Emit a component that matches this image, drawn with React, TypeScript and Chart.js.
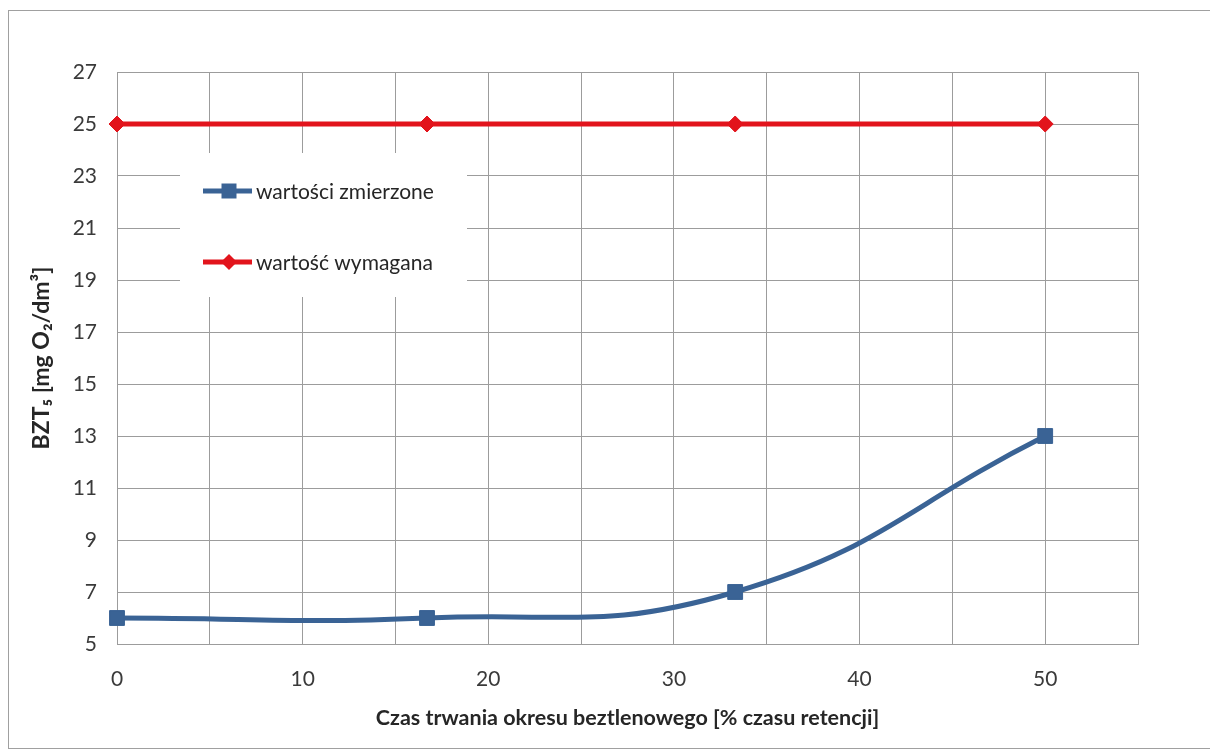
import React, { useEffect, useRef } from "react";
import { Chart, registerables } from "chart.js";

Chart.register(...registerables);

const xValues = [0, 16.7, 33.3, 50];
const measuredValues = [6, 6, 7, 13];
const requiredValues = [25, 25, 25, 25];
const xGridValues = [0, 5, 10, 15, 20, 25, 30, 35, 40, 45, 50, 55];
const xLabelValues = [0, 10, 20, 30, 40, 50];
const yTickValues = [5, 7, 9, 11, 13, 15, 17, 19, 21, 23, 25, 27];
const seriesLabels = ["wartości zmierzone", "wartość wymagana"];
const xTitle = "Czas trwania okresu beztlenowego [% czasu retencji]";
const yTitle = "BZT₅ [mg O₂/dm³]";

const BLUE = "#3A6395";
const RED = "#E2141C";
const GRID = "#9c9c9c";
const FONT = "Lato, 'Open Sans', sans-serif";

const frameAndLegend = {
  id: "frameAndLegend",
  beforeDraw(chart: any) {
    const ctx = chart.ctx;
    ctx.save();
    ctx.strokeStyle = "#a0a0a0";
    ctx.lineWidth = 1;
    ctx.strokeRect(8.5, 10.5, 1210, 738);
    ctx.restore();
  },
  afterDatasetsDraw(chart: any) {
    const ctx = chart.ctx;
    ctx.save();
    ctx.fillStyle = "#ffffff";
    ctx.fillRect(180, 153, 287, 144);
    const rows = [
      { y: 191, color: BLUE, style: "rect", r: 10 },
      { y: 262, color: RED, style: "rectRot", r: 8 },
    ];
    rows.forEach((row, i) => {
      ctx.strokeStyle = row.color;
      ctx.lineWidth = 5;
      ctx.beginPath();
      ctx.moveTo(203, row.y);
      ctx.lineTo(252, row.y);
      ctx.stroke();
      ctx.fillStyle = row.color;
      ctx.beginPath();
      if (row.style === "rect") {
        ctx.rect(229 - 7.5, row.y - 7.5, 15, 15);
      } else {
        ctx.moveTo(229 - row.r, row.y);
        ctx.lineTo(229, row.y - row.r);
        ctx.lineTo(229 + row.r, row.y);
        ctx.lineTo(229, row.y + row.r);
        ctx.closePath();
      }
      ctx.fill();
      ctx.fillStyle = "#262626";
      ctx.font = `21px ${FONT}`;
      ctx.textBaseline = "middle";
      ctx.textAlign = "left";
      ctx.fillText(chart.data.datasets[i].label, 256, row.y + 1);
    });
    ctx.restore();
  },
};

export default function App() {
  const canvasRef = useRef<HTMLCanvasElement | null>(null);

  useEffect(() => {
    const canvas = canvasRef.current;
    if (!canvas) return;
    const chart = new Chart(canvas, {
      type: "line",
      data: {
        datasets: [
          {
            label: seriesLabels[0],
            data: xValues.map((x, i) => ({ x, y: measuredValues[i] })),
            borderColor: BLUE,
            backgroundColor: BLUE,
            borderWidth: 5,
            pointStyle: "rect",
            pointRadius: 10.5,
            pointBorderWidth: 1,
            pointBackgroundColor: BLUE,
            pointBorderColor: BLUE,
            tension: 0.45,
            clip: false as any,
          },
          {
            label: seriesLabels[1],
            data: xValues.map((x, i) => ({ x, y: requiredValues[i] })),
            borderColor: RED,
            backgroundColor: RED,
            borderWidth: 5,
            pointStyle: "rectRot",
            pointRadius: 8,
            pointBorderWidth: 1,
            pointBackgroundColor: RED,
            pointBorderColor: RED,
            tension: 0,
            clip: false as any,
          },
        ],
      },
      options: {
        animation: false,
        responsive: false,
        maintainAspectRatio: false,
        layout: { padding: { top: 72, right: 72, left: 0, bottom: 0 } },
        plugins: {
          legend: { display: false },
          tooltip: { enabled: false },
        },
        scales: {
          x: {
            type: "linear",
            min: 0,
            max: 55,
            afterBuildTicks: (s: any) => {
              s.ticks = xGridValues.map((v) => ({ value: v }));
            },
            afterFit: (s: any) => {
              s.height = 107;
            },
            ticks: {
              autoSkip: false,
              maxRotation: 0,
              padding: 23,
              color: "#3a3a3a",
              font: { family: FONT, size: 21 },
              callback: (v: any) => (xLabelValues.includes(Number(v)) ? String(v) : ""),
            },
            grid: { color: GRID, lineWidth: 1, drawTicks: false },
            border: { color: GRID, width: 1 },
            title: {
              display: true,
              text: xTitle,
              color: "#262626",
              font: { family: FONT, size: 21.5, weight: "bold" },
              padding: { top: 0, bottom: 20 },
            },
          },
          y: {
            type: "linear",
            min: 5,
            max: 27,
            afterBuildTicks: (s: any) => {
              s.ticks = yTickValues.map((v) => ({ value: v }));
            },
            afterFit: (s: any) => {
              s.width = 117;
            },
            ticks: {
              autoSkip: false,
              padding: 20,
              color: "#3a3a3a",
              font: { family: FONT, size: 21 },
            },
            grid: { color: GRID, lineWidth: 1, drawTicks: false },
            border: { color: GRID, width: 1 },
            title: {
              display: true,
              text: yTitle,
              color: "#262626",
              font: { family: FONT, size: 23, weight: "bold" },
              padding: { top: 28, bottom: 0 },
            },
          },
        },
      },
      plugins: [frameAndLegend],
    });
    return () => chart.destroy();
  }, []);

  return (
    <div style={{ position: "absolute", left: 0, top: 0, width: 1210, height: 751 }}>
      <canvas ref={canvasRef} width={1210} height={751} style={{ width: 1210, height: 751 }} />
    </div>
  );
}
